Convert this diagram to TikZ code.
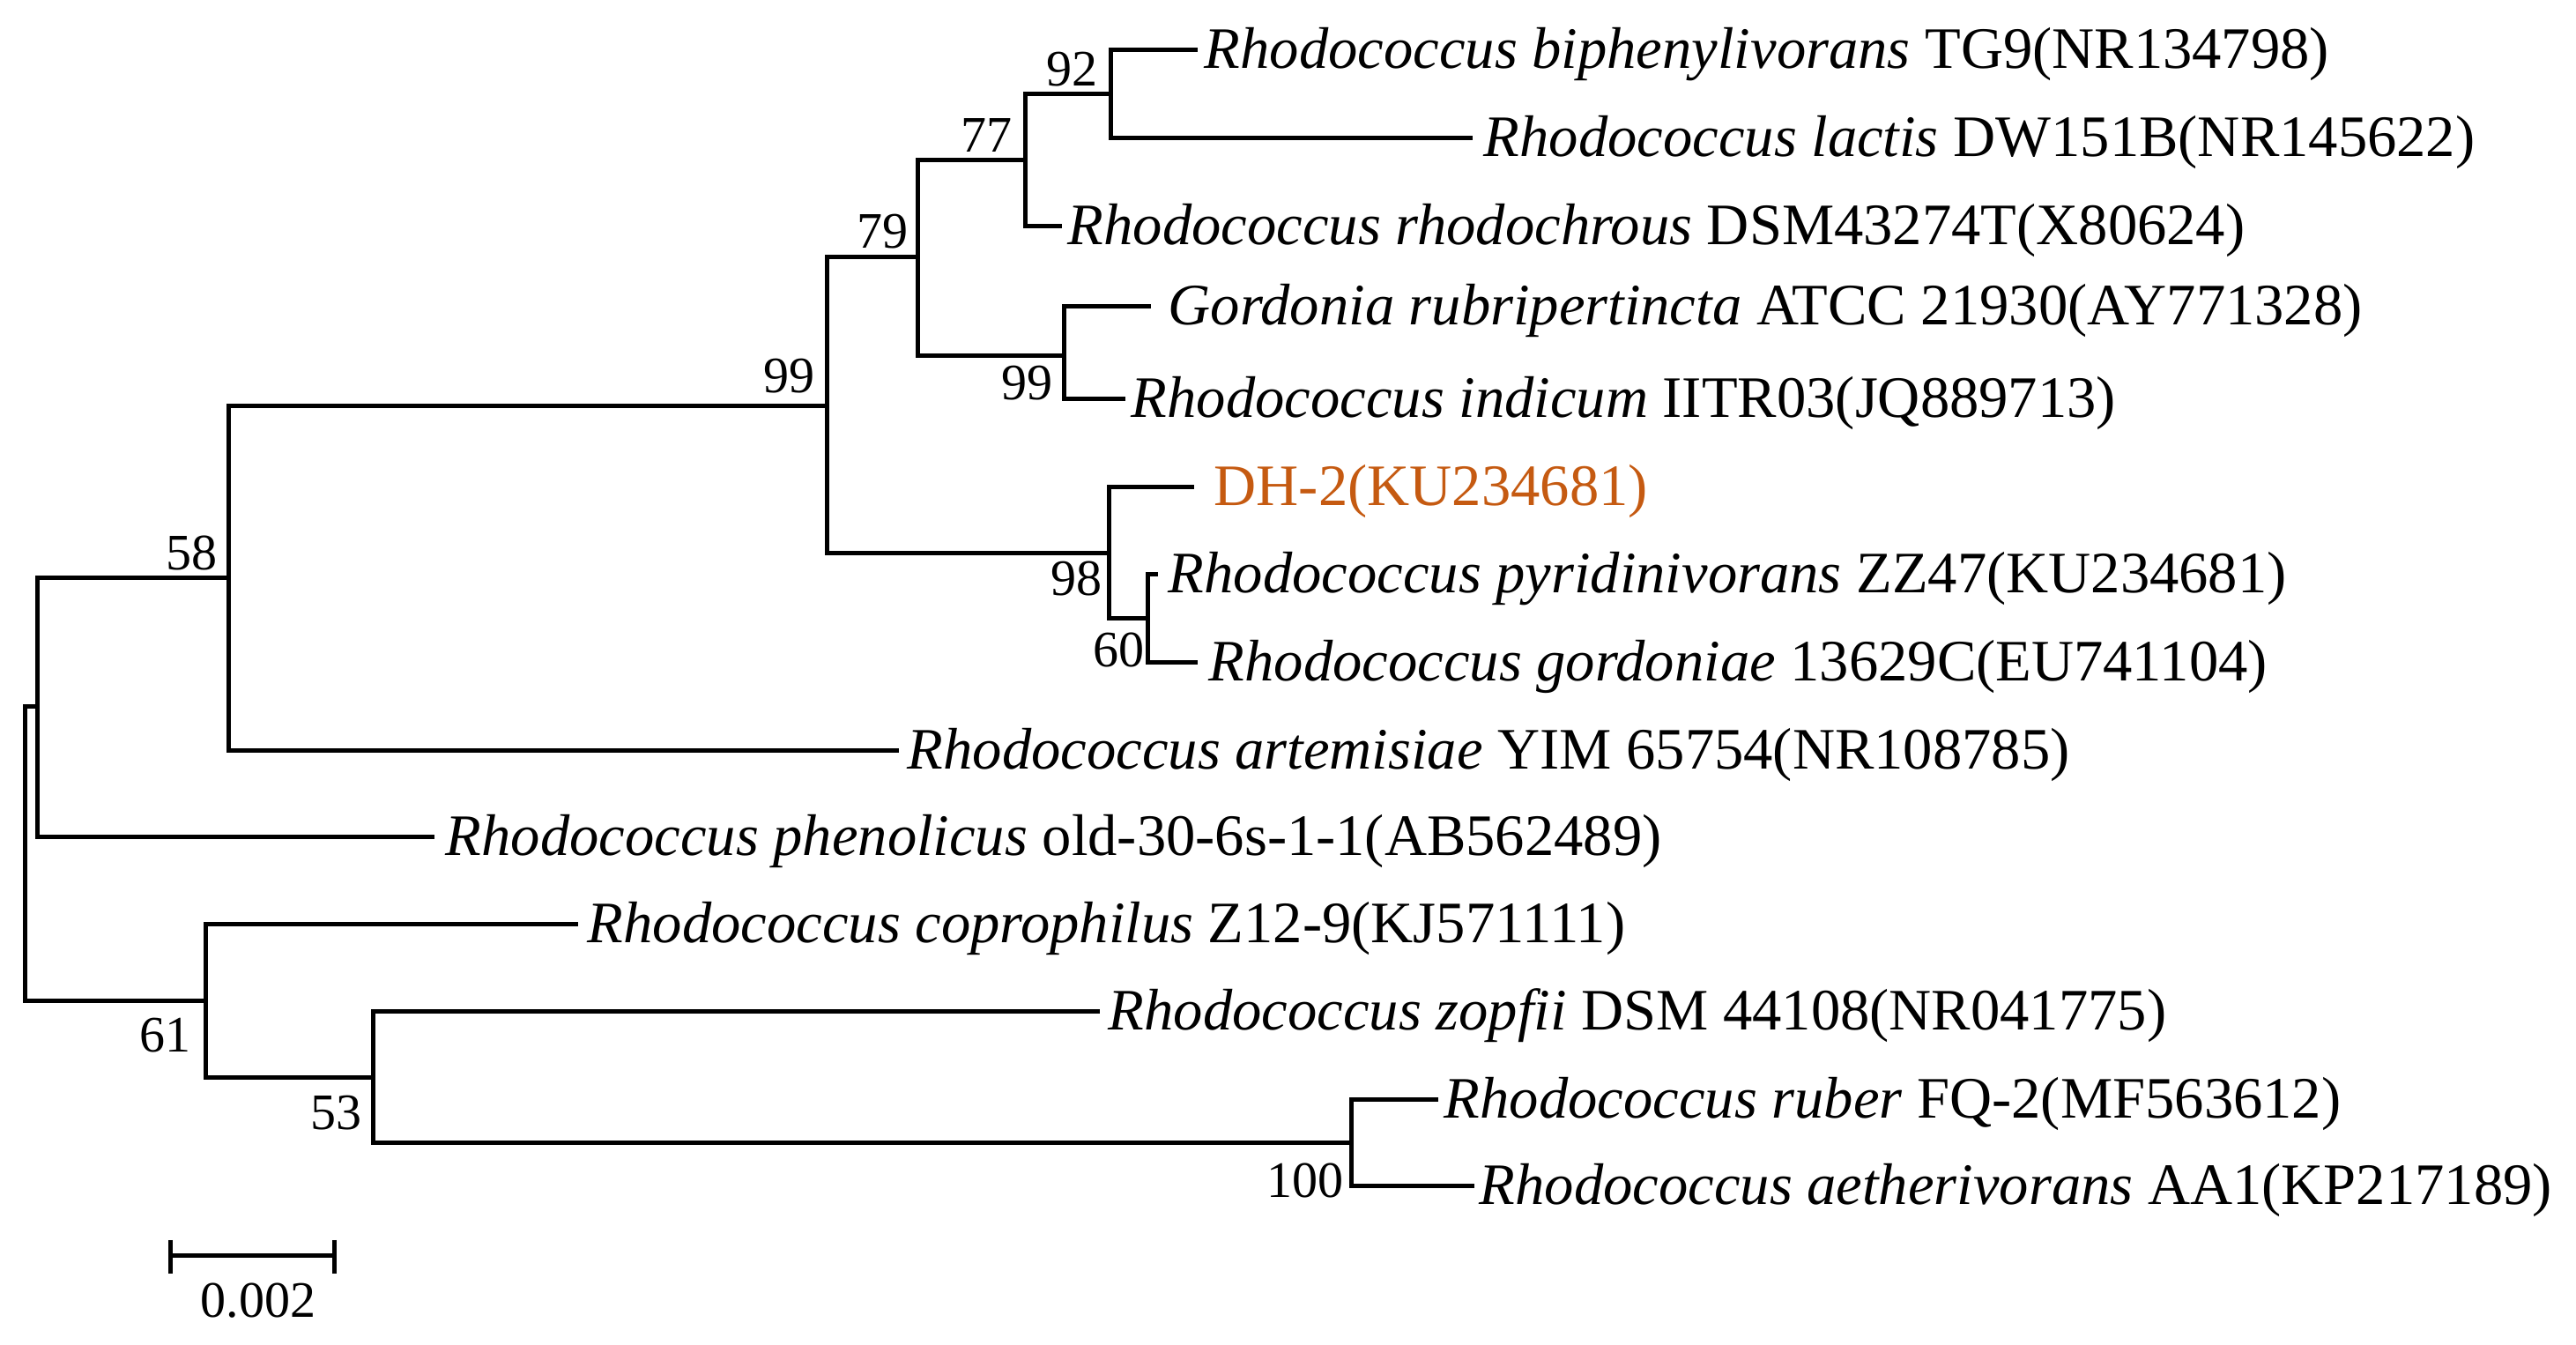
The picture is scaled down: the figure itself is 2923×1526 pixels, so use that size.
\documentclass[tikz,border=0pt]{standalone}
\usepackage{fontspec}
\setmainfont{Liberation Serif}
\definecolor{dhorange}{RGB}{197,90,17}
\begin{document}
\begin{tikzpicture}[x=0.25pt,y=-0.25pt,
  br/.style={line width=1.25pt, line join=miter},
  leaf/.style={anchor=base west, inner sep=0pt, font=\fontsize{16.65}{20}\selectfont},
  boot/.style={inner sep=0pt, font=\fontsize{14.5}{17}\selectfont}]
\useasboundingbox (0,0) rectangle (2923,1526);
% internal nodes
\coordinate (root) at (28,969);
\coordinate (nA) at (42,802);
\coordinate (n58) at (259,656);
\coordinate (n99) at (938,461);
\coordinate (n79) at (1041,292);
\coordinate (n77) at (1163,182);
\coordinate (n92) at (1260,107);
\coordinate (n99b) at (1207,404);
\coordinate (n98) at (1258,628);
\coordinate (n60) at (1302,702);
\coordinate (n61) at (233,1136);
\coordinate (n53) at (423,1223);
\coordinate (n100) at (1533,1297);
% leaf tips
\coordinate (t1) at (1359,57);
\coordinate (t2) at (1671,157);
\coordinate (t3) at (1205,257);
\coordinate (t4) at (1306,348);
\coordinate (t5) at (1277,453);
\coordinate (t6) at (1355,553);
\coordinate (t7) at (1314,652);
\coordinate (t8) at (1359,752);
\coordinate (t9) at (1020,852);
\coordinate (t10) at (493,950);
\coordinate (t11) at (656,1049);
\coordinate (t12) at (1248,1148);
\coordinate (t13) at (1632,1248);
\coordinate (t14) at (1673,1346);
% branches
\draw[br] (root) |- (nA);
\draw[br] (root) |- (n61);
\draw[br] (nA) |- (n58);
\draw[br] (nA) |- (t10);
\draw[br] (n58) |- (n99);
\draw[br] (n58) |- (t9);
\draw[br] (n99) |- (n79);
\draw[br] (n99) |- (n98);
\draw[br] (n79) |- (n77);
\draw[br] (n79) |- (n99b);
\draw[br] (n77) |- (n92);
\draw[br] (n77) |- (t3);
\draw[br] (n92) |- (t1);
\draw[br] (n92) |- (t2);
\draw[br] (n99b) |- (t4);
\draw[br] (n99b) |- (t5);
\draw[br] (n98) |- (t6);
\draw[br] (n98) |- (n60);
\draw[br] (n60) |- (t7);
\draw[br] (n60) |- (t8);
\draw[br] (n61) |- (t11);
\draw[br] (n61) |- (n53);
\draw[br] (n53) |- (t12);
\draw[br] (n53) |- (n100);
\draw[br] (n100) |- (t13);
\draw[br] (n100) |- (t14);
% leaf labels
\node[leaf] (L1) at (1366,78) {\textit{Rhodococcus biphenylivorans} TG9(NR134798)};
\node[leaf] (L2) at (1683,178) {\textit{Rhodococcus lactis} DW151B(NR145622)};
\node[leaf] (L3) at (1211,278) {\textit{Rhodococcus rhodochrous} DSM43274T(X80624)};
\node[leaf] (L4) at (1325,369) {\textit{Gordonia rubripertincta} ATCC 21930(AY771328)};
\node[leaf] (L5) at (1283,474) {\textit{Rhodococcus indicum} IITR03(JQ889713)};
\node[leaf,text=dhorange] (L6) at (1377,574) {DH-2(KU234681)};
\node[leaf] (L7) at (1325,673) {\textit{Rhodococcus pyridinivorans} ZZ47(KU234681)};
\node[leaf] (L8) at (1371,773) {\textit{Rhodococcus gordoniae} 13629C(EU741104)};
\node[leaf] (L9) at (1029,873) {\textit{Rhodococcus artemisiae} YIM 65754(NR108785)};
\node[leaf] (L10) at (505,971) {\textit{Rhodococcus phenolicus} old-30-6s-1-1(AB562489)};
\node[leaf] (L11) at (666,1070) {\textit{Rhodococcus coprophilus} Z12-9(KJ571111)};
\node[leaf] (L12) at (1257,1169) {\textit{Rhodococcus zopfii} DSM 44108(NR041775)};
\node[leaf] (L13) at (1638,1269) {\textit{Rhodococcus ruber} FQ-2(MF563612)};
\node[leaf] (L14) at (1678,1367) {\textit{Rhodococcus aetherivorans} AA1(KP217189)};
% bootstrap values
\node[boot] (b92) at (1216,79) {92};
\node[boot] (b77) at (1119,154) {77};
\node[boot] (b79) at (1001,263) {79};
\node[boot] (b99a) at (895,427) {99};
\node[boot] (b99b) at (1165,435) {99};
\node[boot] (b98) at (1221,657) {98};
\node[boot] (b60) at (1269,738) {60};
\node[boot] (b58) at (217,628) {58};
\node[boot] (b61) at (187,1175) {61};
\node[boot] (b53) at (381,1263) {53};
\node[boot] (b100) at (1481,1339) {100};
% scale bar
\coordinate (sbL) at (193,1425);
\coordinate (sbR) at (379,1425);
\coordinate (sbLt) at (193,1407);
\coordinate (sbLb) at (193,1445);
\coordinate (sbRt) at (379,1407);
\coordinate (sbRb) at (379,1445);
\draw[br] (sbL) -- (sbR);
\draw[br] (sbLt) -- (sbLb);
\draw[br] (sbRt) -- (sbRb);
\node[boot] (sblab) at (293,1476) {0.002};
\end{tikzpicture}
\end{document}
